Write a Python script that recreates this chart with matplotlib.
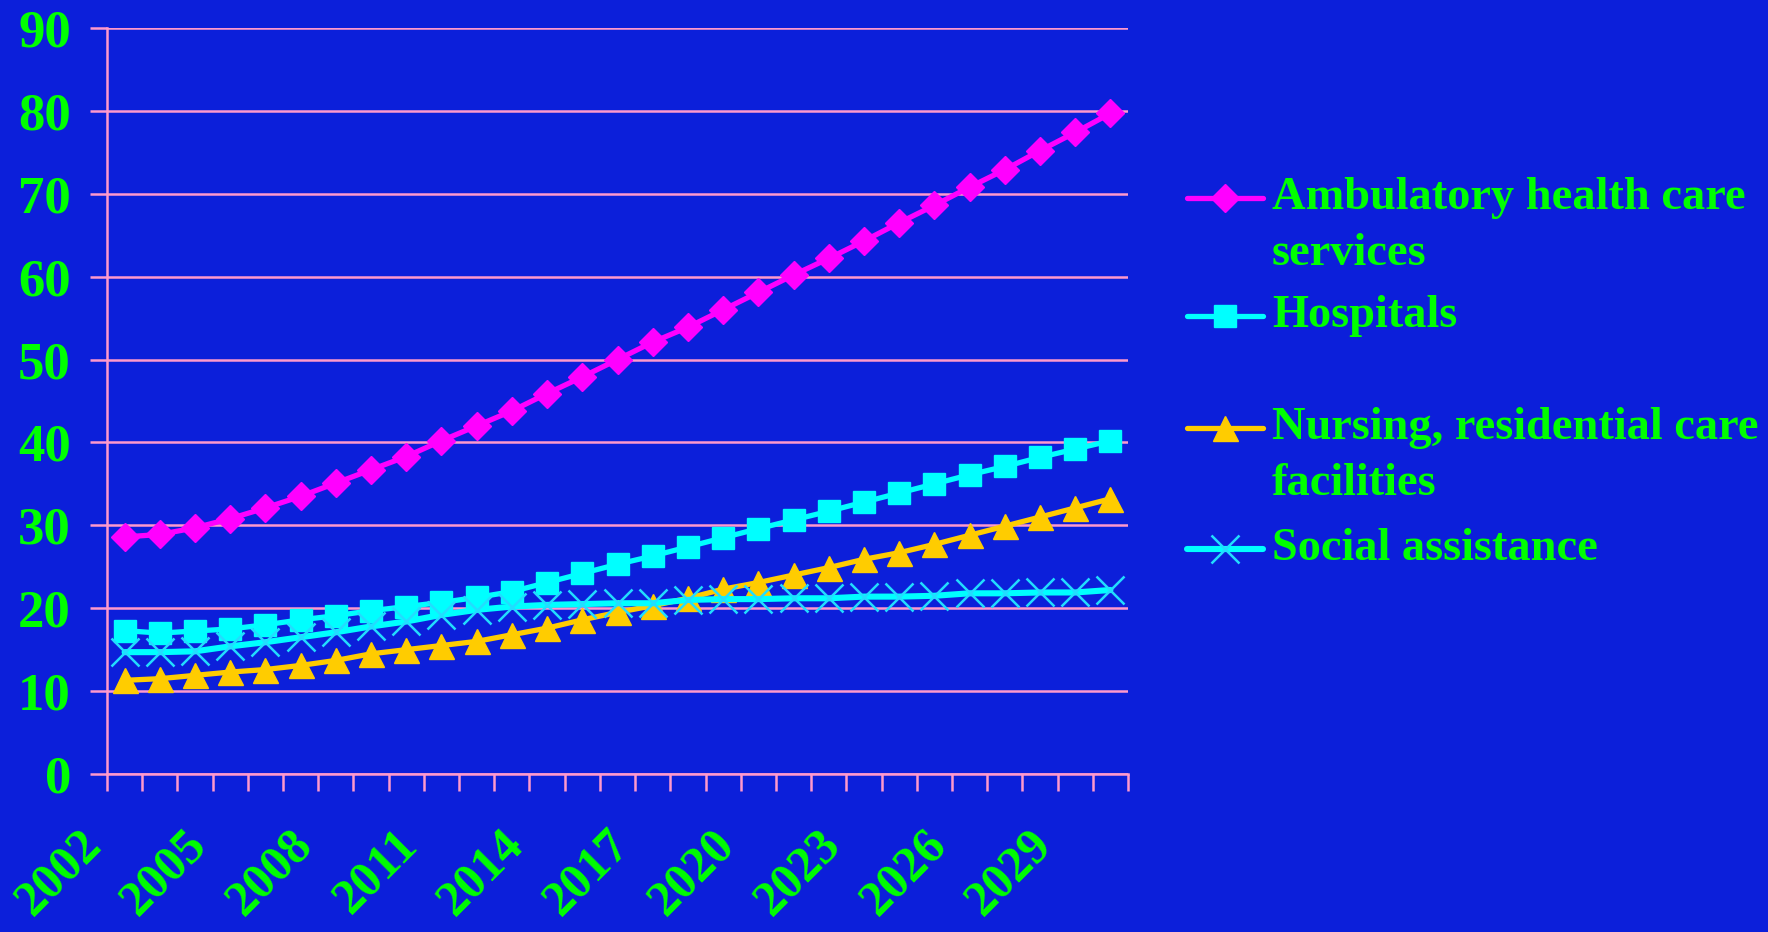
import numpy as np
import matplotlib
matplotlib.use('Agg')
import matplotlib.pyplot as plt
from matplotlib.lines import Line2D
from matplotlib.transforms import ScaledTranslation

# data
years = list(range(2002, 2031))
label_years = years[::3]

ambulatory = [28.6, 28.9, 29.7, 30.8, 32.1, 33.5, 35.1, 36.7, 38.3, 40.2,
              42.0, 43.8, 45.9, 47.9, 50.0, 52.1, 53.9, 56.0, 58.1, 60.2,
              62.2, 64.3, 66.5, 68.6, 70.8, 72.9, 75.2, 77.4, 79.7]
hospitals = [17.3, 17.0, 17.25, 17.5, 18.0, 18.6, 19.1, 19.7, 20.2, 20.7,
             21.3, 22.0, 23.1, 24.2, 25.3, 26.3, 27.4, 28.5, 29.6, 30.65,
             31.7, 32.8, 33.9, 35.0, 36.1, 37.1, 38.2, 39.2, 40.2]
nursing = [11.3, 11.5, 11.9, 12.3, 12.6, 13.1, 13.7, 14.5, 15.0, 15.5,
           16.0, 16.8, 17.6, 18.6, 19.5, 20.3, 21.2, 22.3, 23.1, 24.0,
           24.9, 25.9, 26.7, 27.7, 28.8, 29.9, 31.0, 32.1, 33.2]
social = [14.7, 14.7, 14.8, 15.4, 15.9, 16.5, 17.1, 17.8, 18.4, 19.2,
          19.8, 20.2, 20.4, 20.5, 20.6, 20.6, 21.0, 21.1, 21.1, 21.2,
          21.2, 21.4, 21.4, 21.5, 21.8, 21.8, 21.9, 21.9, 22.2]

series_names = ['Ambulatory health care\nservices', 'Hospitals',
                'Nursing, residential care\nfacilities', 'Social assistance']

bg = '#0C1FDA'
pink = '#FF99CC'
green = '#00FF00'
W, H = 1768, 932

plt.rcParams['font.family'] = ['Liberation Serif', 'DejaVu Serif']
plt.rcParams['font.weight'] = 'bold'

fig = plt.figure(figsize=(W / 100, H / 100), dpi=100, facecolor=bg)
ax = fig.add_axes([107 / W, 1 - 774 / H, (1128 - 107) / W, (774 - 28) / H])
ax.set_facecolor(bg)

x = np.arange(len(years))

# style for each series: line colour, marker, marker size, marker colour, marker edge width
styles = [
    ('#FF00FF', 'D', 14, '#FF00FF', 1),
    ('#00FFFF', 's', 16, '#00FFFF', 1),
    ('#FFCC00', '^', 18, '#FFCC00', 1),
    ('#00FFFF', 'x', 20, '#22DDFF', 1.8),
]
all_series = [ambulatory, hospitals, nursing, social]

for vals, (col, mk, ms, mcol, mew) in zip(all_series, styles):
    lw = 4.4 if mk == 'x' else 3.8
    ax.plot(x, vals, color=col, lw=lw, marker=mk, markersize=ms,
            markerfacecolor=mcol, markeredgecolor=mcol, markeredgewidth=mew,
            solid_capstyle='round', zorder=3)

ax.set_xlim(-0.5, len(years) - 0.5)
ax.set_ylim(0, 90)
ax.set_yticks(np.arange(0, 91, 10))
ax.yaxis.grid(True, color=pink, lw=1.8)
ax.set_axisbelow(True)

for side in ['top', 'right']:
    ax.spines[side].set_visible(False)
for side in ['left', 'bottom']:
    ax.spines[side].set_color(pink)
    ax.spines[side].set_linewidth(1.8)

# tick marks at category boundaries, labels every third year
ax.set_xticks(np.arange(-0.5, len(years), 1))
ax.set_xticklabels([])
ax.set_xticks([years.index(y) for y in label_years], minor=True)
ax.set_xticklabels([str(y) for y in label_years], minor=True,
                   rotation=45, ha='right', va='top')
ax.tick_params(axis='x', which='major', direction='out', length=12,
               width=1.8, color=pink)
ax.tick_params(axis='x', which='minor', length=0, pad=34,
               labelsize=36, labelcolor=green)
ax.tick_params(axis='y', direction='out', length=12, width=1.8, color=pink,
               pad=14, labelsize=38, labelcolor=green)

for lab in ax.get_xticklabels(minor=True):
    lab.set_transform(lab.get_transform() + ScaledTranslation(-0.14, 0, fig.dpi_scale_trans))

# legend drawn by hand so each handle sits on the first text line
legend_y = [198, 316, 428, 549]
for name, yy, (col, mk, ms, mcol, mew) in zip(series_names, legend_y, styles):
    lw = 4.4 if mk == 'x' else 3.8
    fy = 1 - yy / H
    fig.add_artist(Line2D([1187 / W, 1225 / W, 1263 / W], [fy, fy, fy],
                          transform=fig.transFigure, color=col, lw=lw,
                          marker=mk, markersize=ms, markevery=[1],
                          markerfacecolor=mcol, markeredgecolor=mcol,
                          markeredgewidth=mew, solid_capstyle='round'))
    for j, line in enumerate(name.split('\n')):
        fig.text(1272 / W, 1 - (yy + j * 56) / H, line, color=green,
                 fontsize=33.4, fontweight='bold', va='center', ha='left')

fig.savefig('out.png', dpi=100, facecolor=bg)
